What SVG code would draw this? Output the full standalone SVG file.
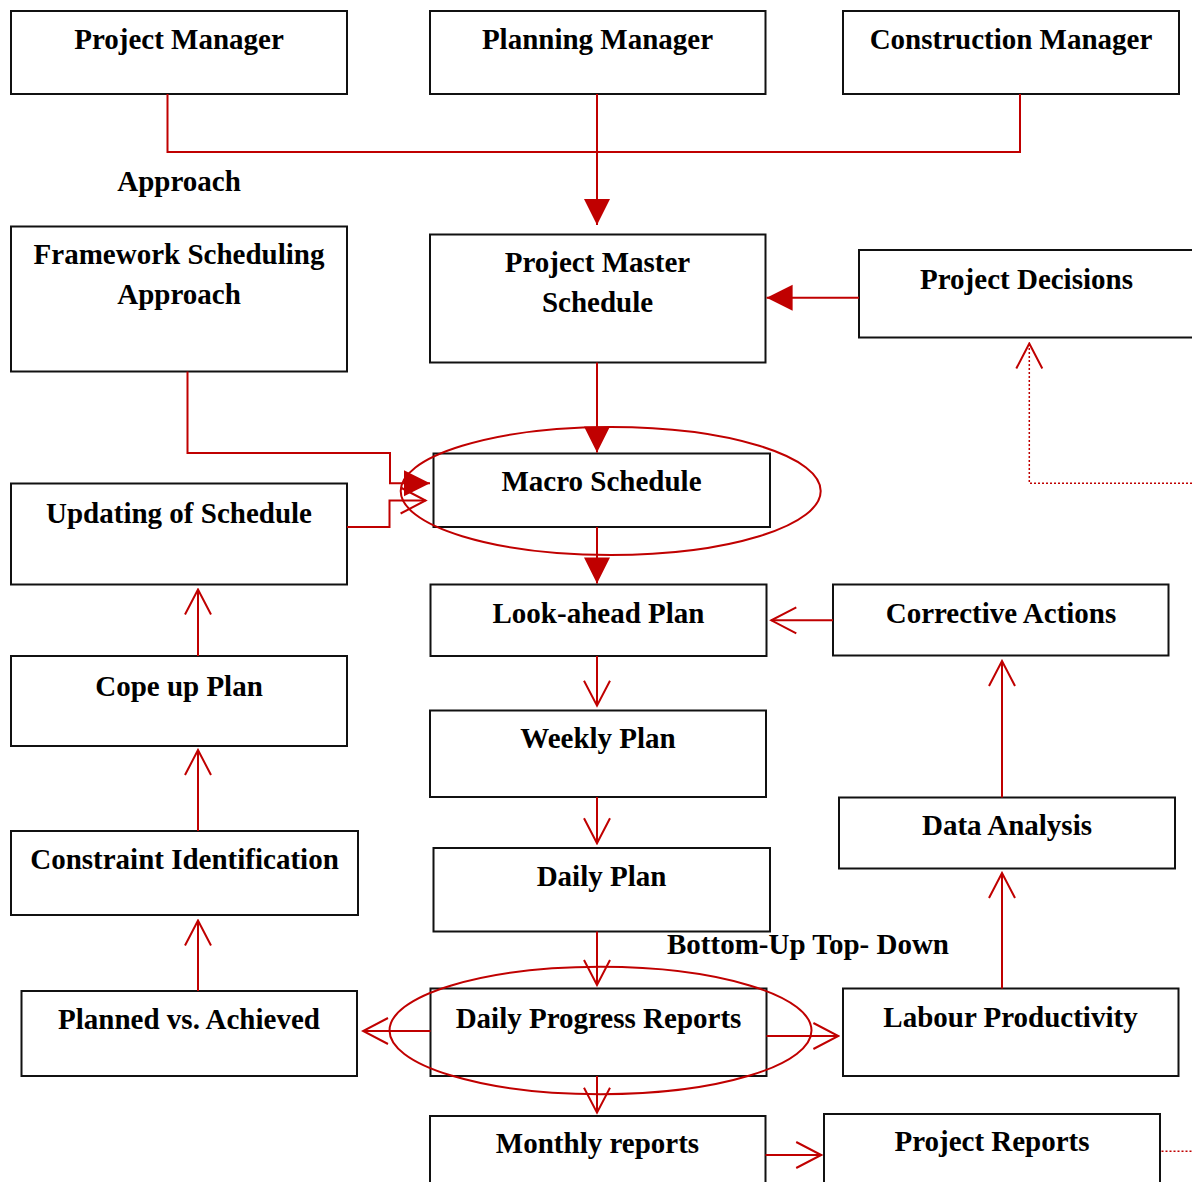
<svg xmlns="http://www.w3.org/2000/svg" width="1192" height="1182" viewBox="0 0 1192 1182">
  <style>
    .box { fill: #ffffff; stroke: #111111; stroke-width: 2; }
    .lbl { font-family: "Liberation Serif", "Times New Roman", serif; font-weight: bold; font-size: 29px; fill: #000000; text-anchor: middle; }
    .free { text-anchor: start; }
    .wire { fill: none; stroke: #C00000; stroke-width: 2; }
    .dots { fill: none; stroke: #C00000; stroke-width: 1.5; stroke-dasharray: 2 2; }
    .ring { fill: none; stroke: #C00000; stroke-width: 2; }
  </style>
  <defs>
    <marker id="solid" markerUnits="userSpaceOnUse" viewBox="-28 -15 30 30" refX="0" refY="0" markerWidth="30" markerHeight="30" orient="auto">
      <polygon points="-26,-13 0,0 -26,13" fill="#C00000"/>
    </marker>
    <marker id="open" markerUnits="userSpaceOnUse" viewBox="-28 -15 30 30" refX="0" refY="0" markerWidth="30" markerHeight="30" orient="auto">
      <path d="M-25,-13 L0,0 L-25,13" fill="none" stroke="#C00000" stroke-width="2"/>
    </marker>
  </defs>

  <!-- nodes -->
  <g id="project-manager"><rect class="box" x="11" y="11" width="336" height="83"/><text class="lbl" x="179" y="49">Project Manager</text></g>
  <g id="planning-manager"><rect class="box" x="430" y="11" width="335.5" height="83"/><text class="lbl" x="597.5" y="49">Planning Manager</text></g>
  <g id="construction-manager"><rect class="box" x="843" y="11" width="336" height="83"/><text class="lbl" x="1011" y="49">Construction Manager</text></g>
  <g id="approach-label"><text class="lbl" x="179" y="191">Approach</text></g>
  <g id="framework"><rect class="box" x="11" y="226.5" width="336" height="145"/><text class="lbl" x="179" y="264">Framework Scheduling</text><text class="lbl" x="179" y="304">Approach</text></g>
  <g id="master-schedule"><rect class="box" x="430" y="234.5" width="335.5" height="128"/><text class="lbl" x="597.5" y="272">Project Master</text><text class="lbl" x="597.5" y="312">Schedule</text></g>
  <g id="project-decisions"><rect class="box" x="859" y="250" width="340" height="87.5"/><text class="lbl" x="1026.5" y="289">Project Decisions</text></g>
  <g id="macro-schedule"><rect class="box" x="433.5" y="453.5" width="336.5" height="73.5"/><text class="lbl" x="601.5" y="491">Macro Schedule</text></g>
  <g id="updating"><rect class="box" x="11" y="483.5" width="336" height="101"/><text class="lbl" x="179" y="523">Updating of Schedule</text></g>
  <g id="look-ahead"><rect class="box" x="430.5" y="584.5" width="336" height="71.5"/><text class="lbl" x="598.5" y="623">Look-ahead Plan</text></g>
  <g id="corrective"><rect class="box" x="833" y="584.5" width="335.5" height="71"/><text class="lbl" x="1001" y="623">Corrective Actions</text></g>
  <g id="cope-up"><rect class="box" x="11" y="656" width="336" height="90"/><text class="lbl" x="179" y="696">Cope up Plan</text></g>
  <g id="weekly"><rect class="box" x="430" y="710.5" width="336" height="86.5"/><text class="lbl" x="598" y="748">Weekly Plan</text></g>
  <g id="data-analysis"><rect class="box" x="839" y="797.5" width="336" height="71"/><text class="lbl" x="1007" y="835">Data Analysis</text></g>
  <g id="constraint"><rect class="box" x="11" y="831" width="347" height="84"/><text class="lbl" x="184.5" y="869">Constraint Identification</text></g>
  <g id="daily-plan"><rect class="box" x="433.5" y="848" width="336.5" height="83.5"/><text class="lbl" x="601.5" y="886">Daily Plan</text></g>
  <g id="direction-label"><text class="lbl free" x="667" y="954">Bottom-Up Top- Down</text></g>
  <g id="planned-achieved"><rect class="box" x="21.5" y="991" width="335.5" height="85"/><text class="lbl" x="189" y="1029">Planned vs. Achieved</text></g>
  <g id="daily-progress"><rect class="box" x="430.5" y="988.5" width="336" height="87.5"/><text class="lbl" x="598.5" y="1028">Daily Progress Reports</text></g>
  <g id="labour"><rect class="box" x="843" y="988.5" width="335.5" height="87.5"/><text class="lbl" x="1010.5" y="1027">Labour Productivity</text></g>
  <g id="monthly"><rect class="box" x="430" y="1116" width="335.5" height="80"/><text class="lbl" x="597.5" y="1153">Monthly reports</text></g>
  <g id="project-reports"><rect class="box" x="824" y="1114" width="336" height="80"/><text class="lbl" x="992" y="1151">Project Reports</text></g>

  <!-- connectors -->
  <g id="connectors">
    <path class="wire" d="M167.5,94 V152 H1020 V94"/>
    <path class="wire" d="M597,94 V225" marker-end="url(#solid)"/>
    <path class="wire" d="M859,297.7 H766.6" marker-end="url(#solid)"/>
    <path class="wire" d="M597,362.5 V452.5" marker-end="url(#solid)"/>
    <path class="wire" d="M597,527 V583.5" marker-end="url(#solid)"/>
    <path class="wire" d="M187.5,371.5 V453 H390 V483.3 H430" marker-end="url(#solid)"/>
    <path class="wire" d="M347,527 H389.5 V500.5 H425.6" marker-end="url(#open)"/>
    <path class="dots" d="M1192,483.3 H1029.3 V343.5" marker-end="url(#open)"/>
    <path class="wire" d="M833,620.3 H771.3" marker-end="url(#open)"/>
    <path class="wire" d="M597,656 V705.7" marker-end="url(#open)"/>
    <path class="wire" d="M597,797 V843.3" marker-end="url(#open)"/>
    <path class="wire" d="M597,931.5 V985" marker-end="url(#open)"/>
    <path class="wire" d="M597,1076 V1112.7" marker-end="url(#open)"/>
    <path class="wire" d="M198,656 V589.5" marker-end="url(#open)"/>
    <path class="wire" d="M198,831 V750" marker-end="url(#open)"/>
    <path class="wire" d="M198,991 V920.5" marker-end="url(#open)"/>
    <path class="wire" d="M430.5,1031 H363" marker-end="url(#open)"/>
    <path class="wire" d="M766.5,1036 H838.4" marker-end="url(#open)"/>
    <path class="wire" d="M1002,988.5 V873" marker-end="url(#open)"/>
    <path class="wire" d="M1002,797.5 V661" marker-end="url(#open)"/>
    <path class="wire" d="M765.5,1155 H821.2" marker-end="url(#open)"/>
    <path class="dots" d="M1161.5,1151.3 H1192"/>
  </g>

  <!-- emphasis rings -->
  <g id="rings">
    <ellipse class="ring" cx="610.7" cy="491" rx="210" ry="64"/>
    <ellipse class="ring" cx="600.5" cy="1030.5" rx="211" ry="63.7"/>
  </g>
</svg>
